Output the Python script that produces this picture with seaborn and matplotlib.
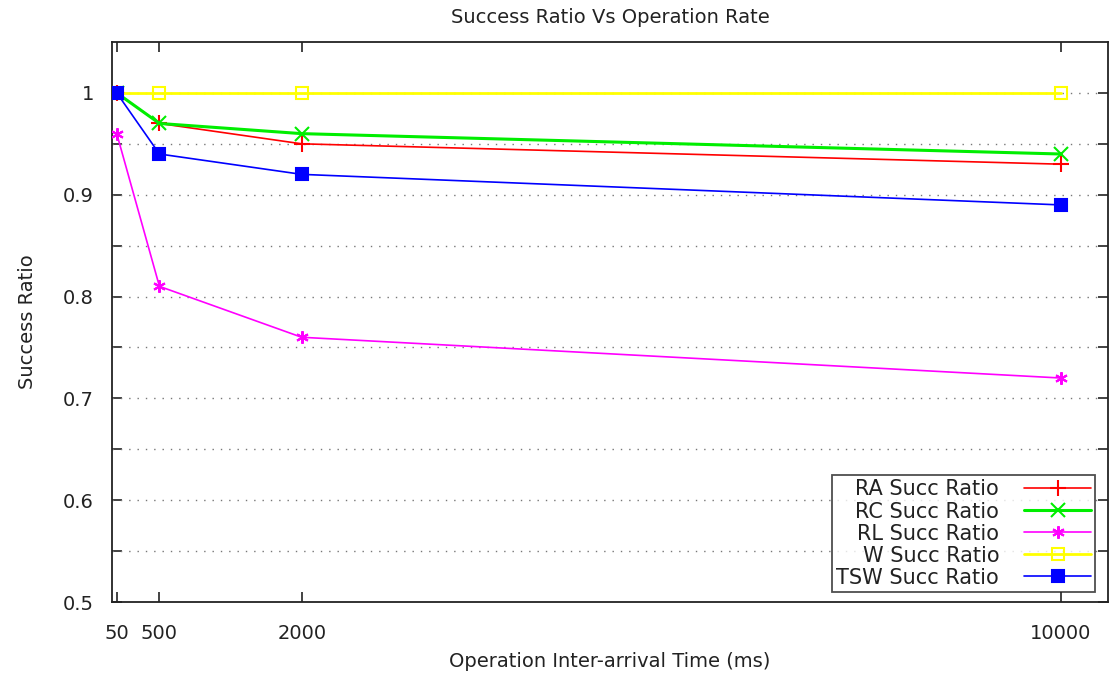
import matplotlib
matplotlib.use("Agg")
import matplotlib.pyplot as plt
import seaborn as sns
import pandas as pd
from matplotlib.ticker import FixedLocator

sns.set_theme(style="white")
plt.rcParams['font.family'] = ['DejaVu Sans']

x_vals = [50, 500, 2000, 10000]
ra = [1.0, 0.97, 0.95, 0.93]
rc = [1.0, 0.97, 0.96, 0.94]
rl = [0.96, 0.81, 0.76, 0.72]
w = [1.0, 1.0, 1.0, 1.0]
tsw = [1.0, 0.94, 0.92, 0.89]

series = [
    ("RA Succ Ratio", ra, "#ff0000", "+", 1.2, 12, "none"),
    ("RC Succ Ratio", rc, "#00ee00", "x", 2.2, 10, "none"),
    ("RL Succ Ratio", rl, "#ff00ff", (6, 2, 0), 1.2, 9, "none"),
    ("W Succ Ratio", w, "#ffff00", "s", 2.0, 9, "none"),
    ("TSW Succ Ratio", tsw, "#0000ff", "s", 1.2, 9, "#0000ff"),
]

fig = plt.figure(figsize=(11.11, 6.88), dpi=100)
ax = fig.add_axes([112/1111, 1-602/688, (1108-112)/1111, (602-42)/688])

for name, vals, col, mk, lw, ms, fc in series:
    df = pd.DataFrame({"x": x_vals, "y": vals})
    sns.lineplot(data=df, x="x", y="y", ax=ax, color=col, linewidth=lw,
                 marker=mk, markersize=ms, markeredgecolor=col,
                 markerfacecolor=(col if fc != "none" else "none"),
                 markeredgewidth=1.5, label=name, zorder=3)

ax.set_xlim(0, 10500)
ax.set_ylim(0.5, 1.05)
ax.xaxis.set_major_locator(FixedLocator(x_vals))
ax.set_xticklabels([str(v) for v in x_vals])
ax.yaxis.set_major_locator(FixedLocator([0.5, 0.6, 0.7, 0.8, 0.9, 1.0]))
ax.set_yticklabels(["0.5", "0.6", "0.7", "0.8", "0.9", "1"])
ax.yaxis.set_minor_locator(FixedLocator([0.55, 0.65, 0.75, 0.85, 0.95]))

for yv in [0.55, 0.6, 0.65, 0.7, 0.75, 0.8, 0.85, 0.9, 0.95, 1.0]:
    ax.plot([0, 10420], [yv, yv], linestyle=(0, (1, 5)), color="#777777",
            linewidth=1.0, zorder=1)

ax.tick_params(axis="both", which="both", direction="in", length=7, width=1.2,
               top=True, right=True, bottom=True, left=True, labelsize=14,
               colors="#222222")
ax.tick_params(axis="x", labeltop=False, pad=16)
ax.tick_params(axis="y", labelright=False, pad=13)
for sp in ax.spines.values():
    sp.set_color("#222222")
    sp.set_linewidth(1.3)

ax.set_xlabel("Operation Inter-arrival Time (ms)", fontsize=14, color="#222222", labelpad=6)
ax.set_ylabel("Success Ratio", fontsize=14, color="#222222", labelpad=19)
ax.set_title("Success Ratio Vs Operation Rate", fontsize=14, color="#222222", pad=14)

leg = ax.legend(loc="lower right", markerfirst=False, fontsize=15, frameon=True,
                fancybox=False, edgecolor="#222222", handlelength=3.2,
                borderpad=0.2, labelspacing=0.1, handletextpad=1.2,
                borderaxespad=0, bbox_to_anchor=(0.987, 0.018))
leg.get_frame().set_linewidth(1.3)
for t in leg.get_texts():
    t.set_color("#222222")

fig.savefig("out.png", dpi=100)
